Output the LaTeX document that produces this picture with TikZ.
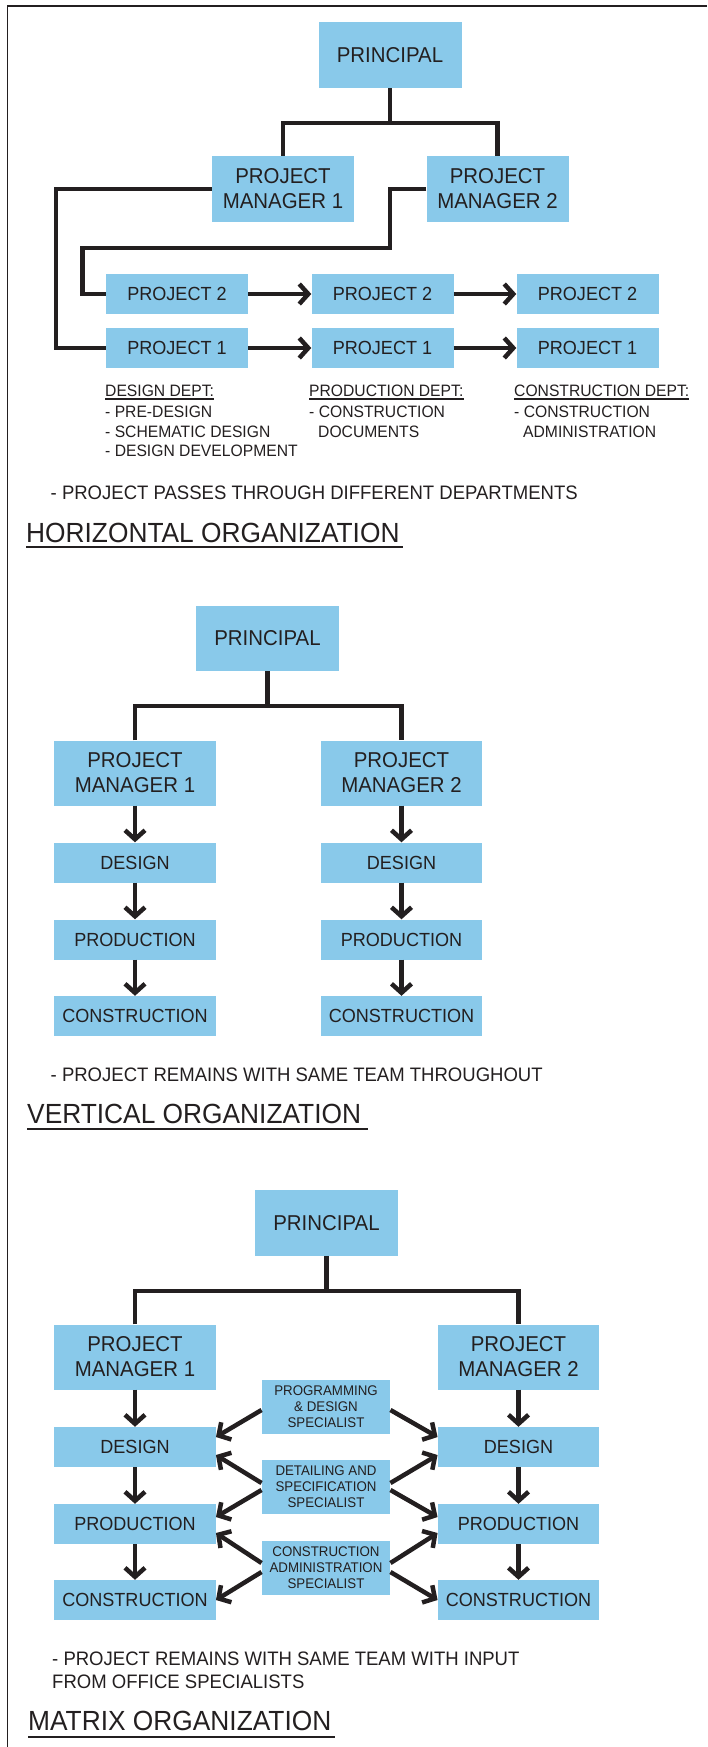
\documentclass[tikz,border=0pt]{standalone}
\usepackage{fontspec}
\setmainfont{Liberation Sans}[FakeStretch=0.95]
\usetikzlibrary{arrows.meta}
\definecolor{boxblue}{RGB}{137,201,234}
\definecolor{ink}{RGB}{35,31,32}
\newcommand{\orgBig}{\fontsize{21.5}{25}\selectfont}
\newcommand{\orgMid}{\fontsize{19}{22}\selectfont}
\newcommand{\orgSmall}{\fontsize{16.5}{19}\selectfont}
\newcommand{\orgSpec}{\fontsize{14}{16}\selectfont}
\newcommand{\orgNote}{\fontsize{19.5}{22.5}\selectfont}
\newcommand{\orgTitle}{\fontsize{27.7}{30}\selectfont}

\begin{document}
\begin{tikzpicture}[x=1pt, y=-1pt,
    box/.style={fill=boxblue, text=ink, inner sep=0pt, align=center},
    pbox/.style={box, minimum width=143pt, minimum height=66pt, font=\orgBig},
    pmbox/.style={box, minimum width=161.5pt, minimum height=65pt, font=\orgBig},
    projbox/.style={box, minimum width=142pt, minimum height=40pt, font=\orgMid},
    stagebox/.style={box, minimum width=161.5pt, minimum height=40pt, font=\orgMid},
    specbox/.style={box, minimum width=128.5pt, minimum height=54pt, font=\orgSpec},
    txt/.style={anchor=base west, inner sep=0pt, text=ink},
    dept/.style={txt, font=\orgSmall},
    note/.style={txt, font=\orgNote},
    title/.style={txt, font=\orgTitle},
    link/.style={draw=ink, line width=4.5pt},
    arr/.style={link, -{Straight Barb[length=9pt, width=20pt]}}]
    \useasboundingbox (0,0) rectangle (707,1747);
    \draw[ink, line width=1.2pt] (707,6) -- (7.5,6) -- (7.5,1747);

    % horizontal organization
    \node[pbox] (hprin) at (390,55) {PRINCIPAL};
    \node[pbox, minimum width=142pt] (hpm1) at (283,189) {PROJECT\\MANAGER 1};
    \node[pbox, minimum width=142pt] (hpm2) at (497.5,189) {PROJECT\\MANAGER 2};
    \foreach \x/\n in {177/a, 382.5/b, 587.5/c} {
        \node[projbox] (p2\n) at (\x,294) {PROJECT 2};
        \node[projbox] (p1\n) at (\x,348) {PROJECT 1};
    }
    \coordinate (hsplit) at (390,123);
    \draw[link] (hprin.south) -- (hsplit);
    \draw[link] (hpm1.north) |- (hsplit) -| (hpm2.north);
    \draw[link] (hpm1.west) -| (56,270) |- (p1a.west);
    \draw[link] (hpm2.west) -| (390,248) -| (82.5,294) -- (p2a.west);
    \foreach \r in {1,2} {
        \draw[arr] (p\r a) -- (p\r b);
        \draw[arr] (p\r b) -- (p\r c);
    }
    \node[dept] (ddes) at (105,396) {DESIGN DEPT:};
    \node[dept] (dpro) at (309,396) {PRODUCTION DEPT:};
    \node[dept] (dcon) at (514,396) {CONSTRUCTION DEPT:};
    \foreach \d in {ddes, dpro, dcon}
        \draw[ink, line width=1.3pt] ([yshift=-3pt]\d.base west) -- ([yshift=-3pt]\d.base east);
    \node[dept] (ddes1) at (105,417.5) {- PRE-DESIGN};
    \node[dept] (ddes2) at (105,437) {- SCHEMATIC DESIGN};
    \node[dept] (ddes3) at (105,456) {- DESIGN DEVELOPMENT};
    \node[dept] (dpro1) at (309,417.5) {- CONSTRUCTION};
    \node[dept] (dpro2) at (318,437) {DOCUMENTS};
    \node[dept] (dcon1) at (514,417.5) {- CONSTRUCTION};
    \node[dept] (dcon2) at (523,437) {ADMINISTRATION};
    \node[note] (hnote) at (50.5,499) {- PROJECT PASSES THROUGH DIFFERENT DEPARTMENTS};
    \node[title] (htitle) at (26,542) {HORIZONTAL ORGANIZATION};
    \draw[ink, line width=2pt] ([yshift=-5pt]htitle.base west) -- ++(377,0);

    % vertical organization
    \node[pbox, minimum height=65pt] (vprin) at (267.5,638.5) {PRINCIPAL};
    \foreach \s/\x in {1/135, 2/401.5} {
        \node[pmbox] (vpm\s) at (\x,773) {PROJECT\\MANAGER \s};
        \node[stagebox] (vdes\s) at (\x,862.5) {DESIGN};
        \node[stagebox] (vpro\s) at (\x,939.5) {PRODUCTION};
        \node[stagebox] (vcon\s) at (\x,1016) {CONSTRUCTION};
        \draw[arr] (vpm\s) -- (vdes\s);
        \draw[arr] (vdes\s) -- (vpro\s);
        \draw[arr] (vpro\s) -- (vcon\s);
    }
    \coordinate (vsplit) at (267.5,706);
    \draw[link] (vprin.south) -- (vsplit);
    \draw[link] (vpm1.north) |- (vsplit) -| (vpm2.north);
    \node[note] (vnote) at (50.5,1081) {- PROJECT REMAINS WITH SAME TEAM THROUGHOUT};
    \node[title] (vtitle) at (27,1123.5) {VERTICAL ORGANIZATION};
    \draw[ink, line width=2pt] ([yshift=-5pt]vtitle.base west) -- ++(341,0);

    % matrix organization
    \node[pbox, minimum height=65.5pt] (mprin) at (326.5,1223) {PRINCIPAL};
    \foreach \s/\x in {1/135, 2/518.5} {
        \node[pmbox] (mpm\s) at (\x,1357) {PROJECT\\MANAGER \s};
        \node[stagebox] (mdes\s) at (\x,1447) {DESIGN};
        \node[stagebox] (mpro\s) at (\x,1524) {PRODUCTION};
        \node[stagebox] (mcon\s) at (\x,1600) {CONSTRUCTION};
        \draw[arr] (mpm\s) -- (mdes\s);
        \draw[arr] (mdes\s) -- (mpro\s);
        \draw[arr] (mpro\s) -- (mcon\s);
    }
    \coordinate (msplit) at (326.5,1291);
    \draw[link] (mprin.south) -- (msplit);
    \draw[link] (mpm1.north) |- (msplit) -| (mpm2.north);
    \node[specbox] (sprog) at (326,1407) {PROGRAMMING\\\& DESIGN\\SPECIALIST};
    \node[specbox] (sdet) at (326,1487) {DETAILING AND\\SPECIFICATION\\SPECIALIST};
    \node[specbox] (sadm) at (326,1568) {CONSTRUCTION\\ADMINISTRATION\\SPECIALIST};
    \draw[arr] ([yshift=-3pt]sprog.west) -- ([yshift=10pt]mdes1.east);
    \draw[arr] ([yshift=-3pt]sprog.east) -- ([yshift=10pt]mdes2.west);
    \draw[arr] ([yshift=4pt]sdet.west) -- ([yshift=-8pt]mdes1.east);
    \draw[arr] ([yshift=4pt]sdet.east) -- ([yshift=-8pt]mdes2.west);
    \draw[arr] ([yshift=-3pt]sdet.west) -- ([yshift=7pt]mpro1.east);
    \draw[arr] ([yshift=-3pt]sdet.east) -- ([yshift=7pt]mpro2.west);
    \draw[arr] ([yshift=5pt]sadm.west) -- ([yshift=-9pt]mpro1.east);
    \draw[arr] ([yshift=5pt]sadm.east) -- ([yshift=-9pt]mpro2.west);
    \draw[arr] ([yshift=-4pt]sadm.west) -- (mcon1.east);
    \draw[arr] ([yshift=-4pt]sadm.east) -- (mcon2.west);
    \node[note] (mnote1) at (52,1665.5) {- PROJECT REMAINS WITH SAME TEAM WITH INPUT};
    \node[note] (mnote2) at (52,1688) {FROM OFFICE SPECIALISTS};
    \node[title] (mtitle) at (28,1730.5) {MATRIX ORGANIZATION};
    \draw[ink, line width=2pt] ([yshift=-6pt]mtitle.base west) -- ++(306.5,0);
\end{tikzpicture}
\end{document}
